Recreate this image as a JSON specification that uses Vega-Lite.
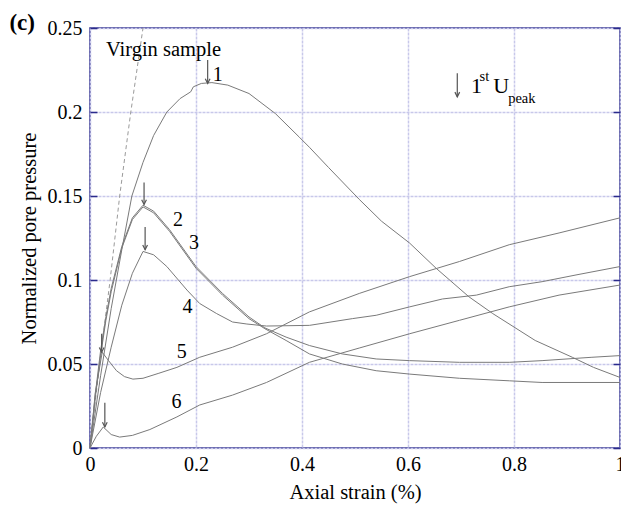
{
  "$schema": "https://vega.github.io/schema/vega-lite/v6.json",
  "width": 530,
  "height": 420,
  "autosize": {"type": "none"},
  "padding": {"left": 90, "top": 28, "right": 1, "bottom": 61},
  "config": {
    "view": {"stroke": "#2b2b8c", "strokeWidth": 1.5},
    "font": "Liberation Serif",
    "axis": {
      "labelFont": "Liberation Serif",
      "titleFont": "Liberation Serif",
      "labelFontSize": 20,
      "titleFontSize": 20.5,
      "labelColor": "#000",
      "titleColor": "#000",
      "titleFontWeight": "normal",
      "domain": false,
      "gridColor": "#c8c8ea",
      "gridWidth": 1.5,
      "gridDash": [3, 1]
    }
  },
  "datasets": {
    "curves": [
      {"c": "1", "x": 0, "y": 0}, {"c": "1", "x": 0.02, "y": 0.043}, {"c": "1", "x": 0.04, "y": 0.083}, {"c": "1", "x": 0.06, "y": 0.118}, {"c": "1", "x": 0.079, "y": 0.15}, {"c": "1", "x": 0.1, "y": 0.17}, {"c": "1", "x": 0.12, "y": 0.186}, {"c": "1", "x": 0.145, "y": 0.2}, {"c": "1", "x": 0.17, "y": 0.208}, {"c": "1", "x": 0.19, "y": 0.212}, {"c": "1", "x": 0.195, "y": 0.215}, {"c": "1", "x": 0.21, "y": 0.217}, {"c": "1", "x": 0.23, "y": 0.2175}, {"c": "1", "x": 0.26, "y": 0.216}, {"c": "1", "x": 0.3, "y": 0.211}, {"c": "1", "x": 0.35, "y": 0.199}, {"c": "1", "x": 0.395, "y": 0.185}, {"c": "1", "x": 0.414, "y": 0.179}, {"c": "1", "x": 0.45, "y": 0.167}, {"c": "1", "x": 0.508, "y": 0.148}, {"c": "1", "x": 0.55, "y": 0.135}, {"c": "1", "x": 0.603, "y": 0.122}, {"c": "1", "x": 0.653, "y": 0.107}, {"c": "1", "x": 0.715, "y": 0.09}, {"c": "1", "x": 0.76, "y": 0.08}, {"c": "1", "x": 0.8, "y": 0.072}, {"c": "1", "x": 0.84, "y": 0.064}, {"c": "1", "x": 0.91, "y": 0.054}, {"c": "1", "x": 0.95, "y": 0.048}, {"c": "1", "x": 1, "y": 0.042},
      {"c": "2", "x": 0, "y": 0}, {"c": "2", "x": 0.01, "y": 0.032}, {"c": "2", "x": 0.02, "y": 0.058}, {"c": "2", "x": 0.03, "y": 0.078}, {"c": "2", "x": 0.04, "y": 0.095}, {"c": "2", "x": 0.06, "y": 0.12}, {"c": "2", "x": 0.08, "y": 0.137}, {"c": "2", "x": 0.1, "y": 0.1445}, {"c": "2", "x": 0.12, "y": 0.141}, {"c": "2", "x": 0.15, "y": 0.13}, {"c": "2", "x": 0.2, "y": 0.108}, {"c": "2", "x": 0.25, "y": 0.092}, {"c": "2", "x": 0.3, "y": 0.078}, {"c": "2", "x": 0.33, "y": 0.0715}, {"c": "2", "x": 0.37, "y": 0.066}, {"c": "2", "x": 0.414, "y": 0.061}, {"c": "2", "x": 0.476, "y": 0.056}, {"c": "2", "x": 0.54, "y": 0.053}, {"c": "2", "x": 0.603, "y": 0.052}, {"c": "2", "x": 0.697, "y": 0.051}, {"c": "2", "x": 0.791, "y": 0.051}, {"c": "2", "x": 0.853, "y": 0.052}, {"c": "2", "x": 0.947, "y": 0.054}, {"c": "2", "x": 1, "y": 0.055},
      {"c": "3", "x": 0, "y": 0}, {"c": "3", "x": 0.01, "y": 0.03}, {"c": "3", "x": 0.02, "y": 0.055}, {"c": "3", "x": 0.03, "y": 0.076}, {"c": "3", "x": 0.04, "y": 0.093}, {"c": "3", "x": 0.06, "y": 0.119}, {"c": "3", "x": 0.08, "y": 0.136}, {"c": "3", "x": 0.1, "y": 0.1435}, {"c": "3", "x": 0.12, "y": 0.14}, {"c": "3", "x": 0.15, "y": 0.129}, {"c": "3", "x": 0.2, "y": 0.107}, {"c": "3", "x": 0.25, "y": 0.091}, {"c": "3", "x": 0.3, "y": 0.077}, {"c": "3", "x": 0.33, "y": 0.071}, {"c": "3", "x": 0.37, "y": 0.064}, {"c": "3", "x": 0.414, "y": 0.056}, {"c": "3", "x": 0.476, "y": 0.05}, {"c": "3", "x": 0.54, "y": 0.046}, {"c": "3", "x": 0.603, "y": 0.044}, {"c": "3", "x": 0.697, "y": 0.0415}, {"c": "3", "x": 0.791, "y": 0.04}, {"c": "3", "x": 0.853, "y": 0.039}, {"c": "3", "x": 0.917, "y": 0.039}, {"c": "3", "x": 1, "y": 0.039},
      {"c": "4", "x": 0, "y": 0}, {"c": "4", "x": 0.02, "y": 0.033}, {"c": "4", "x": 0.04, "y": 0.06}, {"c": "4", "x": 0.06, "y": 0.085}, {"c": "4", "x": 0.08, "y": 0.104}, {"c": "4", "x": 0.1, "y": 0.117}, {"c": "4", "x": 0.12, "y": 0.115}, {"c": "4", "x": 0.145, "y": 0.108}, {"c": "4", "x": 0.183, "y": 0.094}, {"c": "4", "x": 0.207, "y": 0.086}, {"c": "4", "x": 0.239, "y": 0.08}, {"c": "4", "x": 0.269, "y": 0.075}, {"c": "4", "x": 0.296, "y": 0.0738}, {"c": "4", "x": 0.333, "y": 0.0726}, {"c": "4", "x": 0.414, "y": 0.073}, {"c": "4", "x": 0.495, "y": 0.077}, {"c": "4", "x": 0.54, "y": 0.079}, {"c": "4", "x": 0.603, "y": 0.084}, {"c": "4", "x": 0.665, "y": 0.0887}, {"c": "4", "x": 0.729, "y": 0.091}, {"c": "4", "x": 0.791, "y": 0.096}, {"c": "4", "x": 0.853, "y": 0.099}, {"c": "4", "x": 0.917, "y": 0.103}, {"c": "4", "x": 1, "y": 0.108},
      {"c": "5", "x": 0, "y": 0}, {"c": "5", "x": 0.01, "y": 0.033}, {"c": "5", "x": 0.023, "y": 0.057}, {"c": "5", "x": 0.035, "y": 0.052}, {"c": "5", "x": 0.05, "y": 0.046}, {"c": "5", "x": 0.065, "y": 0.0425}, {"c": "5", "x": 0.081, "y": 0.041}, {"c": "5", "x": 0.1, "y": 0.0415}, {"c": "5", "x": 0.13, "y": 0.0445}, {"c": "5", "x": 0.164, "y": 0.048}, {"c": "5", "x": 0.207, "y": 0.054}, {"c": "5", "x": 0.269, "y": 0.06}, {"c": "5", "x": 0.333, "y": 0.068}, {"c": "5", "x": 0.414, "y": 0.081}, {"c": "5", "x": 0.508, "y": 0.092}, {"c": "5", "x": 0.603, "y": 0.102}, {"c": "5", "x": 0.697, "y": 0.111}, {"c": "5", "x": 0.791, "y": 0.121}, {"c": "5", "x": 0.885, "y": 0.128}, {"c": "5", "x": 1, "y": 0.137},
      {"c": "6", "x": 0, "y": 0}, {"c": "6", "x": 0.012, "y": 0.007}, {"c": "6", "x": 0.025, "y": 0.0125}, {"c": "6", "x": 0.04, "y": 0.008}, {"c": "6", "x": 0.056, "y": 0.0065}, {"c": "6", "x": 0.08, "y": 0.0075}, {"c": "6", "x": 0.113, "y": 0.011}, {"c": "6", "x": 0.164, "y": 0.0185}, {"c": "6", "x": 0.207, "y": 0.0256}, {"c": "6", "x": 0.269, "y": 0.0315}, {"c": "6", "x": 0.333, "y": 0.039}, {"c": "6", "x": 0.414, "y": 0.051}, {"c": "6", "x": 0.508, "y": 0.0595}, {"c": "6", "x": 0.603, "y": 0.068}, {"c": "6", "x": 0.697, "y": 0.076}, {"c": "6", "x": 0.791, "y": 0.084}, {"c": "6", "x": 0.885, "y": 0.091}, {"c": "6", "x": 1, "y": 0.097}
    ],
    "virgin": [
      {"x": 0, "y": 0}, {"x": 0.02, "y": 0.055}, {"x": 0.038, "y": 0.1}, {"x": 0.056, "y": 0.15}, {"x": 0.077, "y": 0.2}, {"x": 0.1, "y": 0.25}
    ],
    "arrows": [
      {"x": 0.222, "top": 0.231, "bottom": 0.217},
      {"x": 0.102, "top": 0.158, "bottom": 0.145},
      {"x": 0.104, "top": 0.1315, "bottom": 0.118},
      {"x": 0.022, "top": 0.068, "bottom": 0.057},
      {"x": 0.028, "top": 0.027, "bottom": 0.0125},
      {"x": 0.693, "top": 0.223, "bottom": 0.209}
    ],
    "labels": [
      {"t": "1", "x": 0.241, "y": 0.222},
      {"t": "2", "x": 0.166, "y": 0.136},
      {"t": "3", "x": 0.196, "y": 0.122},
      {"t": "4", "x": 0.184, "y": 0.084},
      {"t": "5", "x": 0.173, "y": 0.057},
      {"t": "6", "x": 0.163, "y": 0.0275}
    ],
    "legendBig": [
      {"t": "1", "x": 0.719, "y": 0.2113},
      {"t": "U", "x": 0.761, "y": 0.2113}
    ],
    "legendSmall": [
      {"t": "st", "x": 0.735, "y": 0.2185},
      {"t": "peak", "x": 0.789, "y": 0.2055}
    ],
    "notes": [
      {"t": "Virgin sample", "x": 0.03, "y": 0.237}
    ],
    "panel": [
      {"t": "(c)", "x": -0.152, "y": 0.253}
    ]
  },
  "layer": [
    {
      "data": {"name": "virgin"},
      "mark": {"type": "line", "color": "#9a9a9a", "strokeWidth": 1, "strokeDash": [4, 3]},
      "encoding": {
        "x": {"field": "x", "type": "quantitative", "scale": {"domain": [0, 1], "nice": false},
          "axis": {"values": [0, 0.2, 0.4, 0.6, 0.8, 1], "format": "~g", "title": "Axial strain (%)", "ticks": false, "labelPadding": 6, "titlePadding": 8, "labelFlush": false}},
        "y": {"field": "y", "type": "quantitative", "scale": {"domain": [0, 0.25], "nice": false},
          "axis": {"orient": "left", "values": [0, 0.05, 0.1, 0.15, 0.2, 0.25], "format": "~g", "title": "Normalized pore pressure", "tickColor": "#2b2b8c", "tickSize": -7, "tickWidth": 1.5, "labelPadding": 15, "titlePadding": 8, "labelFlush": false}}
      }
    },
    {
      "data": {"name": "curves"},
      "mark": {"type": "line", "color": "#7a7a7a", "strokeWidth": 1},
      "encoding": {
        "x": {"field": "x", "type": "quantitative", "scale": {"domain": [0, 1], "nice": false}},
        "y": {"field": "y", "type": "quantitative", "scale": {"domain": [0, 0.25], "nice": false}, "axis": {"orient": "right", "values": [0, 0.05, 0.1, 0.15, 0.2, 0.25], "labels": false, "title": null, "grid": false, "tickColor": "#2b2b8c", "tickSize": -7, "tickWidth": 1.5}},
        "detail": {"field": "c"}
      }
    },
    {
      "data": {"name": "arrows"},
      "mark": {"type": "rule", "color": "#555", "strokeWidth": 1.2},
      "encoding": {
        "x": {"field": "x", "type": "quantitative"},
        "y": {"field": "top", "type": "quantitative", "axis": null},
        "y2": {"field": "bottom"}
      }
    },
    {
      "data": {"name": "arrows"},
      "mark": {"type": "point", "shape": "M-0.5,-1L0,0L0.5,-1", "filled": false, "color": "#555", "strokeWidth": 1.2, "size": 90, "opacity": 1},
      "encoding": {
        "x": {"field": "x", "type": "quantitative"},
        "y": {"field": "bottom", "type": "quantitative", "axis": null}
      }
    },
    {
      "data": {"name": "labels"},
      "mark": {"type": "text", "font": "Liberation Serif", "fontSize": 20, "color": "#000", "align": "center", "baseline": "middle"},
      "encoding": {
        "x": {"field": "x", "type": "quantitative"},
        "y": {"field": "y", "type": "quantitative", "axis": null},
        "text": {"field": "t"}
      }
    },
    {
      "data": {"name": "notes"},
      "mark": {"type": "text", "font": "Liberation Serif", "fontSize": 20.5, "color": "#000", "align": "left", "baseline": "middle"},
      "encoding": {
        "x": {"field": "x", "type": "quantitative"},
        "y": {"field": "y", "type": "quantitative", "axis": null},
        "text": {"field": "t"}
      }
    },
    {
      "data": {"name": "legendBig"},
      "mark": {"type": "text", "font": "Liberation Serif", "fontSize": 22, "color": "#000", "align": "left", "baseline": "alphabetic"},
      "encoding": {
        "x": {"field": "x", "type": "quantitative"},
        "y": {"field": "y", "type": "quantitative", "axis": null},
        "text": {"field": "t"}
      }
    },
    {
      "data": {"name": "legendSmall"},
      "mark": {"type": "text", "font": "Liberation Serif", "fontSize": 14.5, "color": "#000", "align": "left", "baseline": "alphabetic"},
      "encoding": {
        "x": {"field": "x", "type": "quantitative"},
        "y": {"field": "y", "type": "quantitative", "axis": null},
        "text": {"field": "t"}
      }
    },
    {
      "data": {"name": "panel"},
      "mark": {"type": "text", "font": "Liberation Serif", "fontSize": 23, "fontWeight": "bold", "color": "#000", "align": "left", "baseline": "middle"},
      "encoding": {
        "x": {"field": "x", "type": "quantitative"},
        "y": {"field": "y", "type": "quantitative", "axis": null},
        "text": {"field": "t"}
      }
    }
  ],
  "resolve": {"scale": {"y": "shared"}, "axis": {"y": "independent"}}
}
